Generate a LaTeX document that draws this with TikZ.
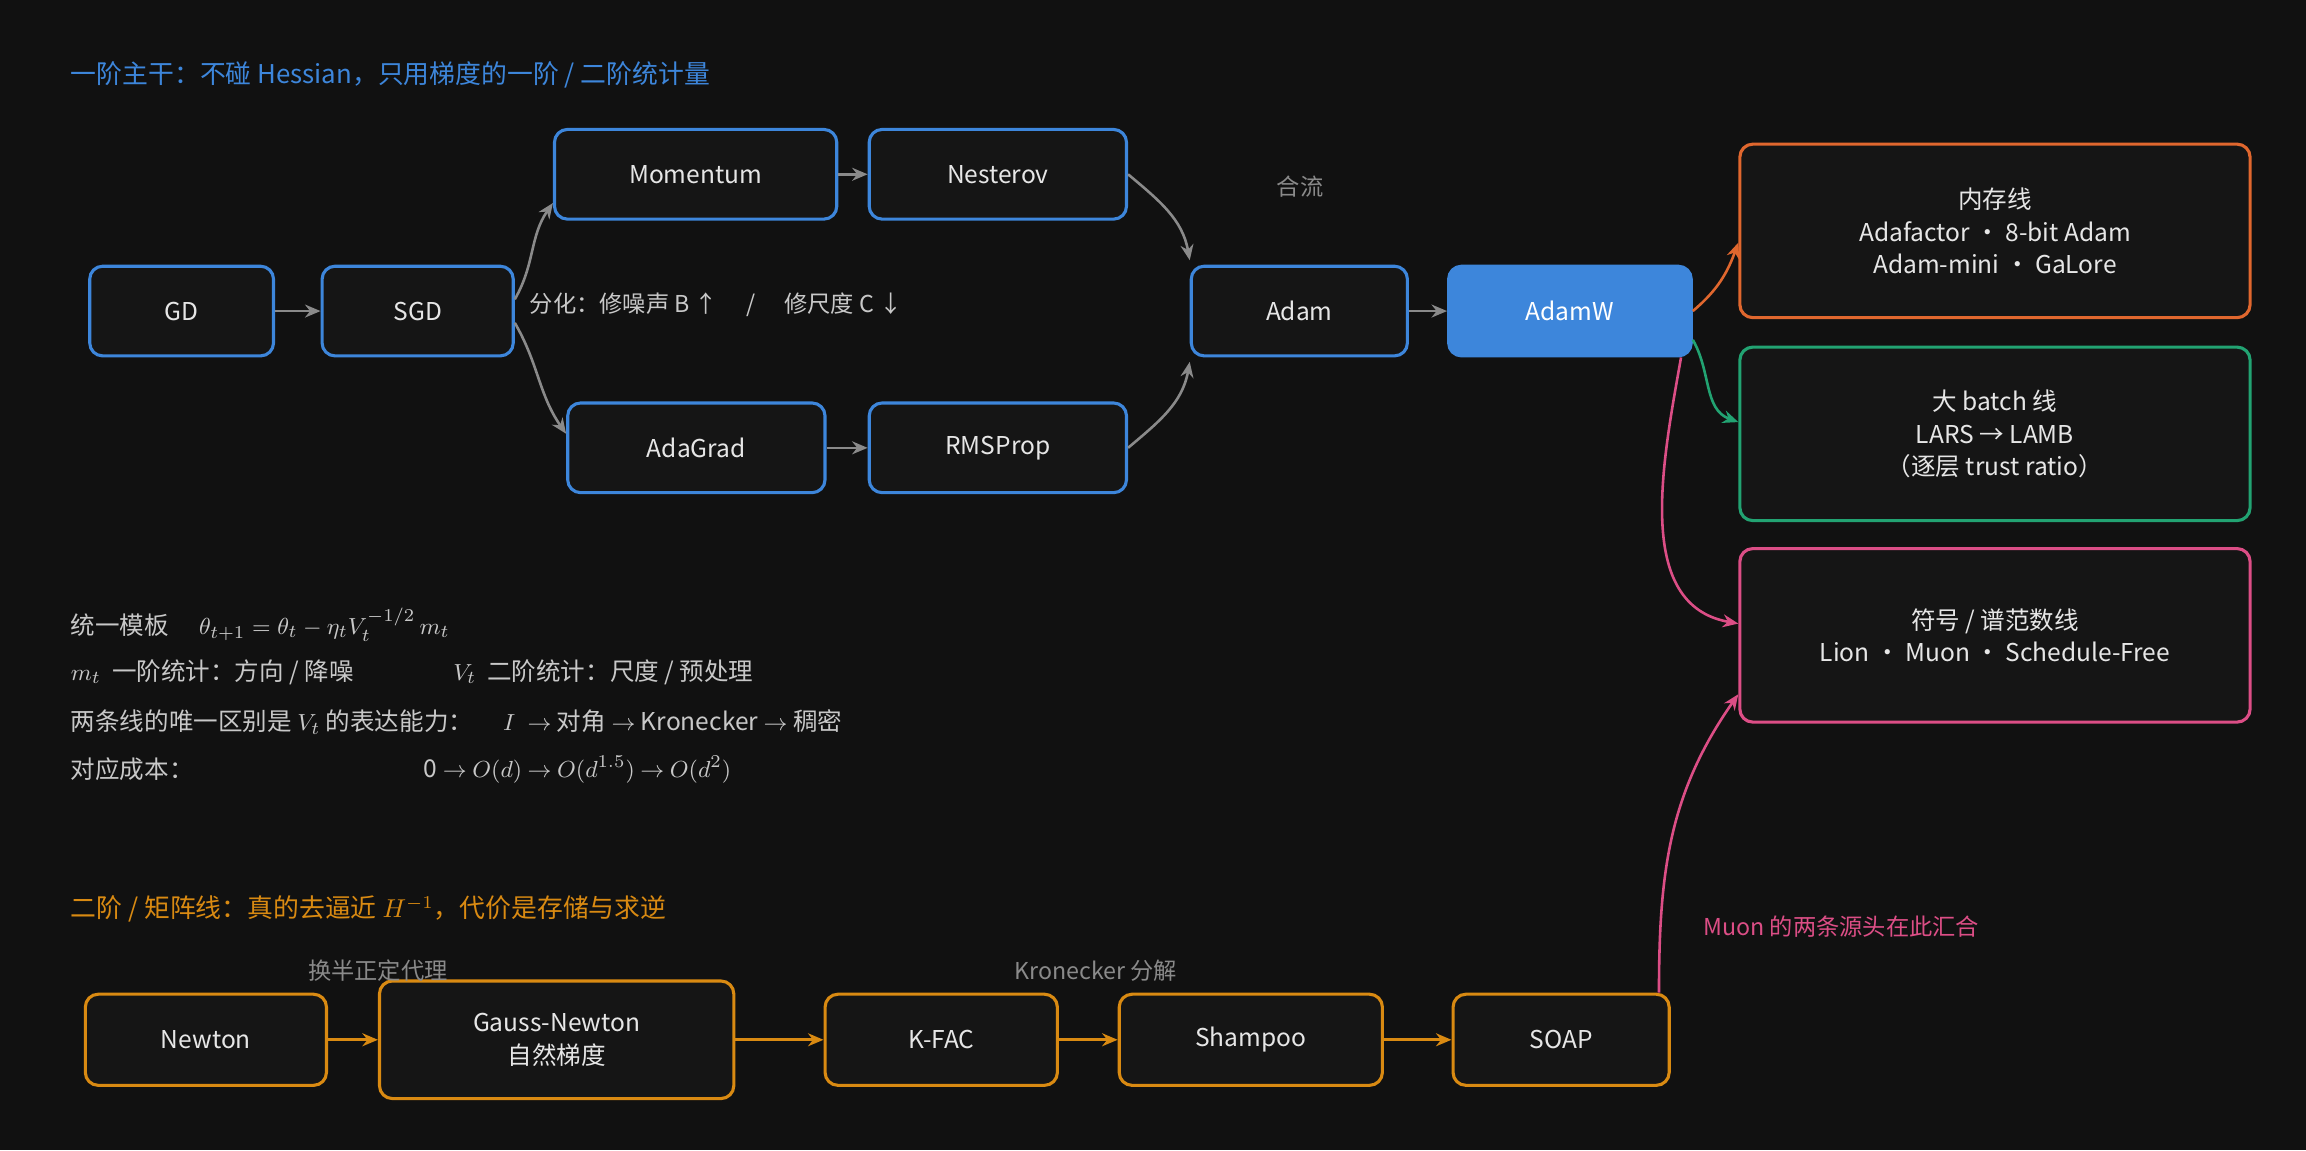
\documentclass[tikz,border=0pt]{standalone}
\usepackage{fontspec}
\setmainfont{Noto Sans CJK SC}
\usetikzlibrary{arrows.meta,positioning,calc}
\definecolor{bg}{HTML}{111111}
\definecolor{boxfill}{HTML}{151515}
\definecolor{txt}{HTML}{E6E6E6}
\definecolor{soft}{HTML}{C8C8C8}
\definecolor{gline}{HTML}{8A8A8A}
\definecolor{blueline}{HTML}{3D86DB}
\definecolor{orangeline}{HTML}{D98A12}
\definecolor{memline}{HTML}{E0672E}
\definecolor{batchline}{HTML}{22A372}
\definecolor{signline}{HTML}{DC4E86}
\tikzstyle{box} = [draw=blueline, line width=1.2pt, rounded corners=5pt, fill=boxfill, text=txt, minimum height=1.22cm, align=center, font=\fontsize{9.5}{12.5}\selectfont]
\tikzstyle{obox} = [box, draw=orangeline, minimum height=1.24cm]
\tikzstyle{bigbox} = [box, minimum width=6.94cm, minimum height=2.36cm]
\tikzstyle{arrow} = [line width=1pt, -{Stealth[length=6pt,width=5pt]}, draw=gline]
\tikzstyle{note} = [font=\fontsize{9}{11}\selectfont, text=gline]
\tikzstyle{line} = [anchor=west, text=soft, font=\fontsize{9.5}{12}\selectfont]
\begin{document}
\begin{tikzpicture}[x=0.02cm,y=-0.02cm]
\fill[bg] (0,0) rectangle (1568,782);
\useasboundingbox (0,0) rectangle (1568,782);
% first-order line
\node[anchor=west, text=blueline, font=\fontsize{10}{12}\selectfont] (title1) at (42,51) {一阶主干：不碰 Hessian，只用梯度的一阶 / 二阶统计量};
\node[box, minimum width=2.5cm] (gd) at (123.5,211.5) {GD};
\node[box, minimum width=2.6cm] (sgd) at (284,211.5) {SGD};
\node[box, minimum width=3.84cm] (mom) at (473,118.5) {Momentum};
\node[box, minimum width=3.5cm] (nes) at (678.5,118.5) {Nesterov};
\node[box, minimum width=3.5cm] (adag) at (473.5,304.5) {AdaGrad};
\node[box, minimum width=3.5cm] (rms) at (678.5,304.5) {RMSProp};
\node[box, minimum width=2.94cm] (adam) at (883.5,211.5) {Adam};
\node[box, minimum width=3.3cm, fill=blueline, text=white] (adamw) at (1067.5,211.5) {AdamW};
\node[bigbox, draw=memline] (mem) at (1356.5,157) {内存线\\Adafactor · 8-bit Adam\\Adam-mini · GaLore};
\node[bigbox, draw=batchline] (batch) at (1356.5,295) {大 batch 线\\LARS → LAMB\\（逐层 trust ratio）};
\node[bigbox, draw=signline] (sign) at (1356.5,432) {符号 / 谱范数线\\Lion · Muon · Schedule-Free};
\node[note, anchor=west, text=soft] (split) at (354,207) {分化：修噪声 B ↑ \quad / \quad 修尺度 C ↓};
\node[note] (merge) at (884,127) {合流};
\draw[arrow] (gd) -- (sgd);
\draw[arrow] ($(sgd.east)+(0,-8)$) to[out=60,in=235] ($(mom.south west)+(0,-12)$);
\draw[arrow] ($(sgd.east)+(0,8)$) to[out=-60,in=125] ($(adag.north west)+(0,22)$);
\draw[arrow] (mom) -- (nes);
\draw[arrow] (adag) -- (rms);
\draw[arrow] (nes.east) to[out=-40,in=100] ($(adam.north west)+(0,-3)$);
\draw[arrow] (rms.east) to[out=40,in=-100] ($(adam.south west)+(0,3)$);
\draw[arrow] (adam) -- (adamw);
\draw[arrow, draw=memline] ($(adamw.east)+(0,0)$) to[out=40,in=-110] ($(mem.west)+(0,8)$);
\draw[arrow, draw=batchline] ($(adamw.south east)+(0,-12)$) to[out=-60,in=160] ($(batch.west)+(0,-8)$);
\draw[arrow, draw=signline] ($(adamw.south east)+(-8,0)$) to[out=-100,in=170] ($(sign.west)+(0,-8)$);
% template
\node[line] (l1) at (42,425) {统一模板 \quad $\theta_{t+1}=\theta_t-\eta_t V_t^{-1/2}\,m_t$};
\node[line] (l2) at (42,457) {$m_t$\ \ 一阶统计：方向 / 降噪};
\node[line] (l2b) at (302,457) {$V_t$\ \ 二阶统计：尺度 / 预处理};
\node[line] (l3) at (42,491) {两条线的唯一区别是 $V_t$ 的表达能力： \quad $I\ \to$\ 对角\ $\to$\ Kronecker\ $\to$\ 稠密};
\node[line] (l4) at (42,523) {对应成本：};
\node[line] (l4b) at (282,523) {0\ $\to$\ $O(d)$\ $\to$\ $O(d^{1.5})$\ $\to$\ $O(d^2)$};
% second-order line
\node[anchor=west, text=orangeline, font=\fontsize{10}{12}\selectfont] (title2) at (42,618) {二阶 / 矩阵线：真的去逼近 $H^{-1}$，代价是存储与求逆};
\node[obox, minimum width=3.28cm] (newton) at (140,707) {Newton};
\node[obox, minimum width=4.82cm, minimum height=1.6cm] (gn) at (378.5,707) {Gauss-Newton\\自然梯度};
\node[obox, minimum width=3.16cm] (kfac) at (640,707) {K-FAC};
\node[obox, minimum width=3.58cm] (shampoo) at (850.5,707) {Shampoo};
\node[obox, minimum width=2.94cm] (soap) at (1061.5,707) {SOAP};
\node[note] (psd) at (257,660) {换半正定代理};
\node[note] (kron) at (745,660) {Kronecker 分解};
\node[anchor=west, text=signline, font=\fontsize{9}{11}\selectfont] (muon) at (1152,630) {Muon 的两条源头在此汇合};
\draw[arrow, draw=orangeline] (newton) -- (gn);
\draw[arrow, draw=orangeline] (gn) -- (kfac);
\draw[arrow, draw=orangeline] (kfac) -- (shampoo);
\draw[arrow, draw=orangeline] (shampoo) -- (soap);
\draw[arrow, draw=signline] ($(soap.north east)+(-8,0)$) to[out=90,in=-125] ($(sign.south west)+(0,-20)$);
\end{tikzpicture}
\end{document}
